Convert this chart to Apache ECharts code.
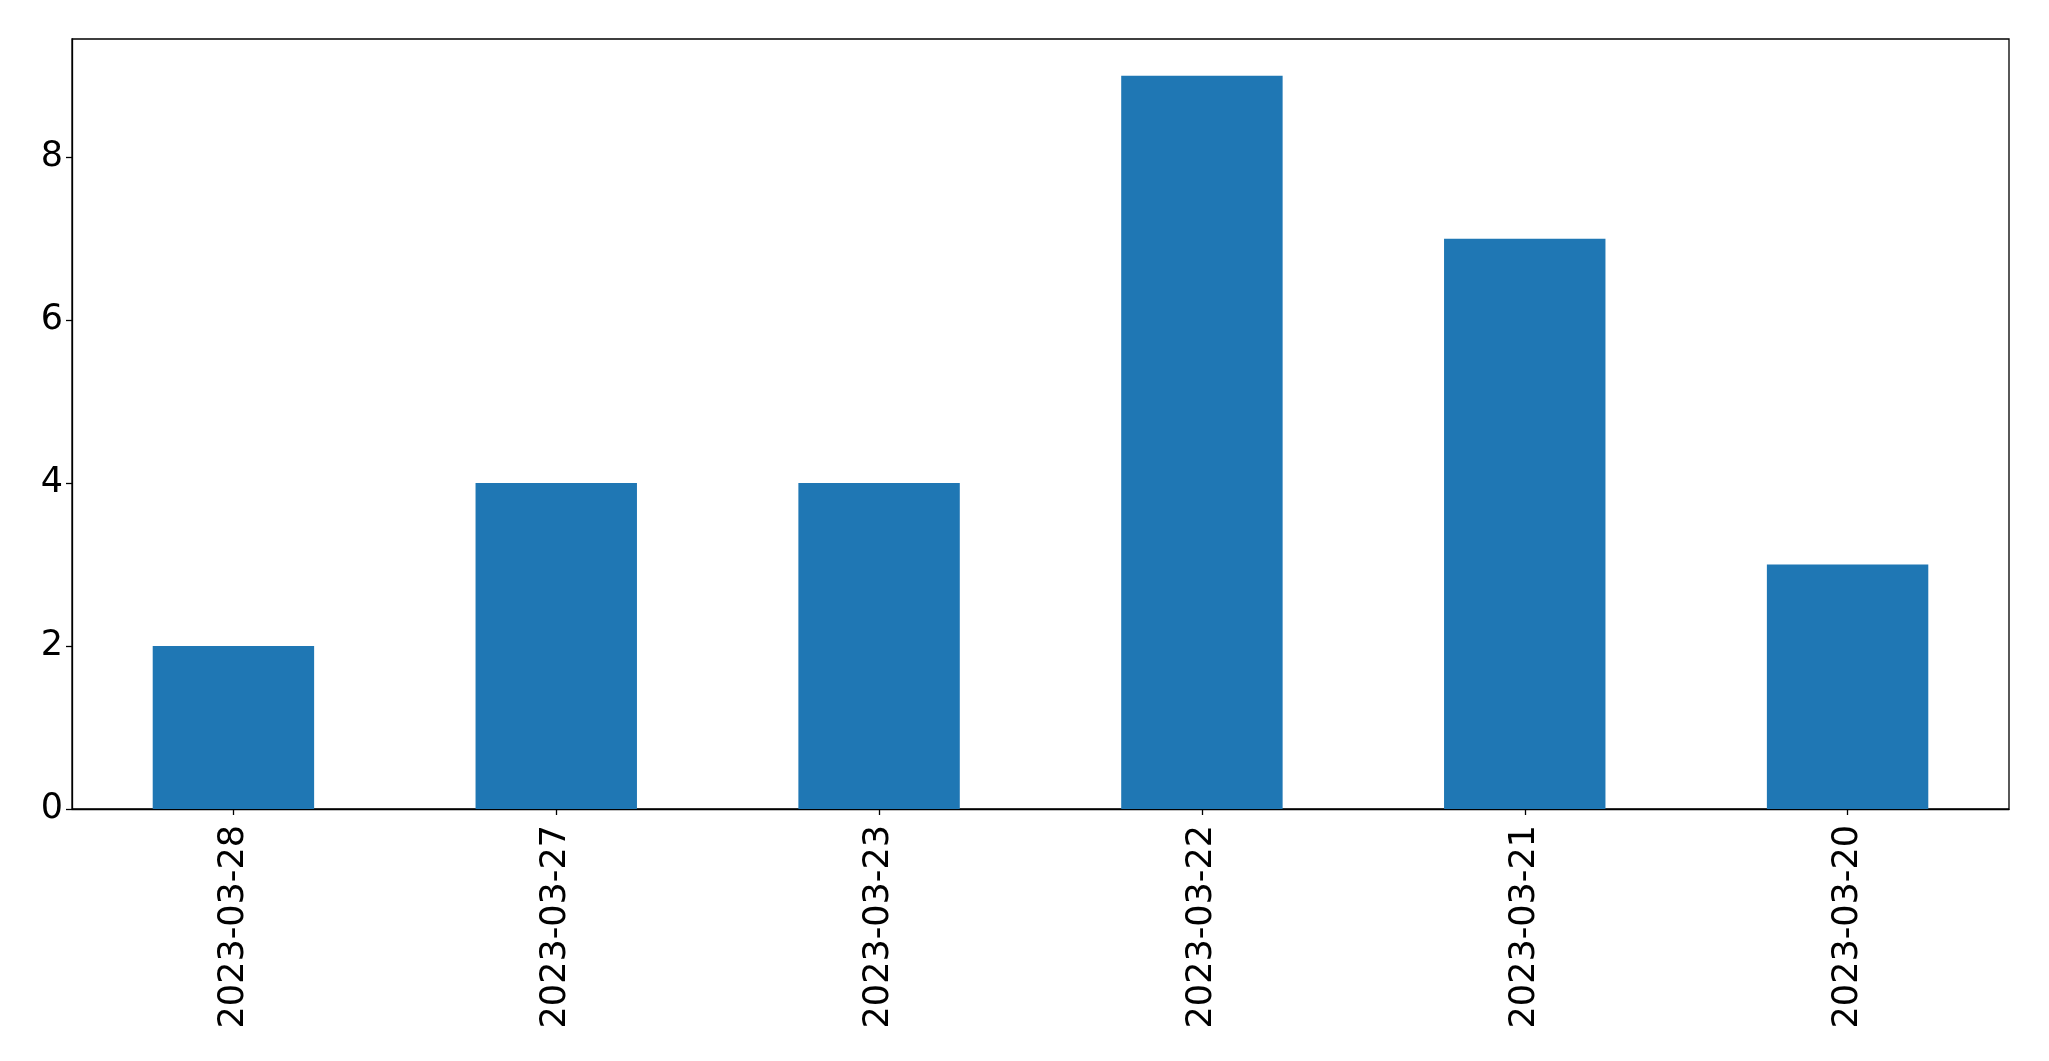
<!DOCTYPE html>
<html>
<head>
<meta charset="utf-8">
<script src="https://cdn.jsdelivr.net/npm/echarts@6/dist/echarts.min.js"></script>
<style>html,body{margin:0;padding:0;background:#fff;}#c{width:2049px;height:1061px;}</style>
</head>
<body>
<div id="c"></div>
<script>
const categories = ['2023-03-28', '2023-03-27', '2023-03-23', '2023-03-22', '2023-03-21', '2023-03-20'];
const counts = [2, 4, 4, 9, 7, 3];
const yTicks = [0, 2, 4, 6, 8];

const chart = echarts.init(document.getElementById('c'), null, {renderer: 'canvas'});
const font = 'DejaVu Sans';
chart.setOption({
  animation: false,
  backgroundColor: '#ffffff',
  grid: {left: 72, top: 39, width: 1937, height: 770, show: true, borderColor: '#000', borderWidth: 1.3, containLabel: false},
  xAxis: {
    type: 'category',
    data: categories,
    boundaryGap: true,
    axisLine: {show: true, lineStyle: {color: '#000', width: 1.3}},
    axisTick: {show: true, alignWithLabel: true, length: 6, lineStyle: {color: '#000', width: 1.3}},
    axisLabel: {rotate: 90, fontFamily: font, fontSize: 35, color: '#000', margin: 16, interval: 0}
  },
  yAxis: {
    type: 'value',
    min: 0, max: 9.45, interval: 2,
    splitLine: {show: false},
    axisLine: {show: true, lineStyle: {color: '#000', width: 1.3}},
    axisTick: {show: true, length: 6, lineStyle: {color: '#000', width: 1.3}},
    axisLabel: {fontFamily: font, fontSize: 35, color: '#000', margin: 9, showMaxLabel: false,
      formatter: v => yTicks.includes(v) ? String(v) : ''}
  },
  series: [{
    type: 'bar',
    data: counts,
    barCategoryGap: '50%',
    itemStyle: {color: '#1f77b4'}
  }]
});
</script>
</body>
</html>
